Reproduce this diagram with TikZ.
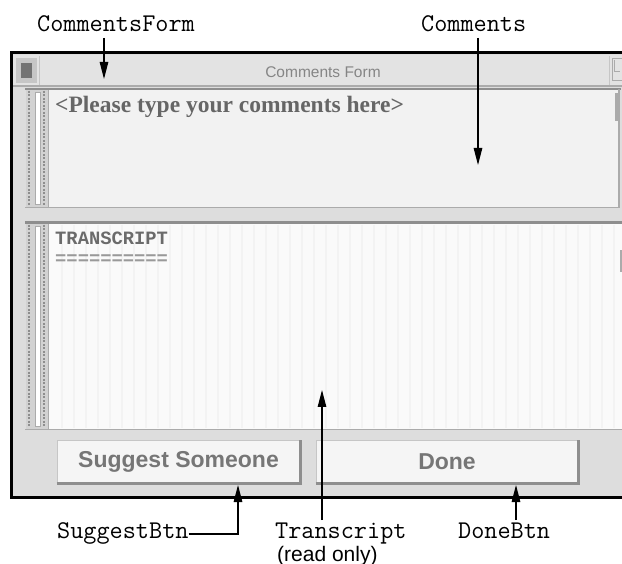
\documentclass[tikz,border=0pt]{standalone}
\usepackage{fontspec}
\setmainfont{Liberation Sans}
\newfontfamily\codemono{Liberation Mono}
\newfontfamily\formserif{Liberation Serif}
\usetikzlibrary{arrows.meta}

\definecolor{winbg}{HTML}{DDDDDD}
\definecolor{titlebg}{HTML}{E3E3E3}
\definecolor{edgedark}{HTML}{8E8E8E}
\definecolor{edgemid}{HTML}{ABABAB}
\definecolor{edgelight}{HTML}{C6C6C6}
\definecolor{areaupper}{HTML}{F2F2F2}
\definecolor{arealower}{HTML}{FAFAFA}
\definecolor{stripe}{HTML}{F3F3F3}
\definecolor{stripbg}{HTML}{D2D2D2}
\definecolor{btnface}{HTML}{F5F5F5}
\definecolor{btntext}{HTML}{767676}
\definecolor{formtext}{HTML}{666666}

\tikzset{
  arr/.style={draw=black, line width=1.1pt, line cap=butt,
    -{Triangle[length=17pt,width=8.5pt]}},
  lblmono/.style={inner sep=0pt, font=\ttfamily\fontsize{25.5}{28}\selectfont},
  lblsans/.style={inner sep=0pt, font=\fontsize{21}{24}\selectfont},
  btn/.style={fill=btnface, draw=edgelight, line width=1pt, inner sep=0pt,
    text=btntext, font=\bfseries\fontsize{23}{25}\selectfont},
  btnshade/.style={draw=edgedark, line width=2.5pt},
  sidestrip/.style={fill=stripbg},
  stripdots/.style={draw=edgedark, line width=1.2pt, dash pattern=on 2pt off 1.5pt},
}

\begin{document}
\begin{tikzpicture}[x=1pt,y=-1pt]
\useasboundingbox (0,0) rectangle (622,564);
\fill[white] (0,0) rectangle (622,564);

% ---- window body and outer frame
\fill[winbg] (11,53) rectangle (622,497);
\draw[line width=3pt, line join=miter] (622,53) -- (11,53) -- (11,497) -- (622,497);

% ---- title bar
\fill[titlebg] (13,55) rectangle (622,85);
\draw[edgemid, line width=2pt] (13,86) -- (622,86);
\fill[edgelight] (16,58) rectangle (37,83);
\fill[black!55] (21,63) rectangle (32,78);
\draw[edgelight, line width=1pt] (39,56) -- (39,85);
\draw[edgelight, line width=1pt] (609,56) -- (609,85);
\draw[edgemid, line width=1pt] (612,59) rectangle (622,81);
\draw[edgemid, line width=1pt] (614,60) -- (614,72) -- (620,72);
\node[inner sep=0pt, text=black!48, font=\fontsize{15.5}{17}\selectfont]
  (titleText) at (323,72) {Comments Form};

% ---- comments text area
\fill[areaupper] (49,90) rectangle (619,207);
\draw[edgedark, line width=2pt] (25,89) -- (621,89);
\draw[edgemid, line width=1.5pt] (25,207.5) -- (620,207.5);
\draw[edgemid, line width=1.2pt] (619,89) -- (619,208);
\fill[edgemid] (615,93) rectangle (619,121);
\node[inner sep=0pt, anchor=base west, text=formtext,
  font=\formserif\bfseries\fontsize{23.5}{26}\selectfont]
  (commentsText) at (55,113) {<Please type your comments here>};

% left strip of the comments area
\fill[sidestrip] (26,90) rectangle (49,207);
\draw[stripdots] (29,91) -- (29,206);
\draw[stripdots] (44,91) -- (44,206);
\fill[white] (35,92) rectangle (40,204);
\draw[edgemid, line width=0.8pt] (35,92) rectangle (40,204);
\draw[edgemid, line width=1.2pt] (48.5,90) -- (48.5,207);

% ---- transcript area
\fill[arealower] (49,224) rectangle (622,429);
\foreach \sx in {62,74,...,614} {
  \draw[stripe, line width=2.5pt] (\sx,225) -- (\sx,428);
}
\draw[edgedark, line width=3pt] (25,223) -- (622,223);
\draw[edgemid, line width=1.5pt] (25,429.5) -- (622,429.5);
\fill[edgemid] (620,250) rectangle (622,272);
\node[inner sep=0pt, anchor=base west, text=black!58,
  font=\codemono\bfseries\fontsize{18.8}{20}\selectfont]
  (transcriptHead) at (55,245) {TRANSCRIPT};
\node[inner sep=0pt, anchor=base west, text=black!40,
  font=\codemono\bfseries\fontsize{18.8}{20}\selectfont]
  (transcriptRule) at (55,265) {==========};

% left strip of the transcript area
\fill[sidestrip] (26,224) rectangle (49,429);
\draw[stripdots] (29,225) -- (29,428);
\draw[stripdots] (44,225) -- (44,428);
\fill[white] (35,226) rectangle (40,426);
\draw[edgemid, line width=0.8pt] (35,226) rectangle (40,426);
\draw[edgemid, line width=1.2pt] (48.5,224) -- (48.5,429);

% ---- buttons
\node[btn, minimum width=243pt, minimum height=42pt] (suggestBtn) at (178.5,462) {Suggest Someone};
\draw[btnshade] (suggestBtn.south west) -- (suggestBtn.south east) -- (suggestBtn.north east);
\node[btn, minimum width=262pt, minimum height=42pt] (doneBtn) at (447,462) {Done};
\draw[btnshade] (doneBtn.south west) -- (doneBtn.south east) -- (doneBtn.north east);

% ---- callout labels
\node[lblmono, anchor=base west] (lblForm) at (37,32) {CommentsForm};
\node[lblmono, anchor=base west] (lblComments) at (421,32) {Comments};
\node[lblmono, anchor=base west] (lblSuggest) at (57,538) {SuggestBtn};
\node[lblmono, anchor=base west] (lblTranscript) at (275,538) {Transcript};
\node[lblsans, anchor=base west] (lblReadOnly) at (277,561) {(read only)};
\node[lblmono, anchor=base west] (lblDone) at (458,538) {DoneBtn};

% arrow targets
\coordinate (tipForm) at (104,79);
\coordinate (tipComments) at (478,165);
\coordinate (tipTranscript) at (322,390);
\coordinate (tipSuggest) at (238,485);
\coordinate (tipDone) at (516,485);
\coordinate (bendSuggest) at (238,534);

% ---- callout connectors
\draw[arr] ([yshift=-6pt]lblForm.base -| tipForm) -- (tipForm);
\draw[arr] ([yshift=-6pt]lblComments.base -| tipComments) -- (tipComments);
\draw[arr] ([yshift=2pt]lblTranscript.north -| tipTranscript) -- (tipTranscript);
\draw[arr] ([yshift=2pt]lblDone.north -| tipDone) -- (tipDone);
\draw[arr] (lblSuggest.east |- bendSuggest) -- (bendSuggest) -- (tipSuggest);
\end{tikzpicture}
\end{document}
